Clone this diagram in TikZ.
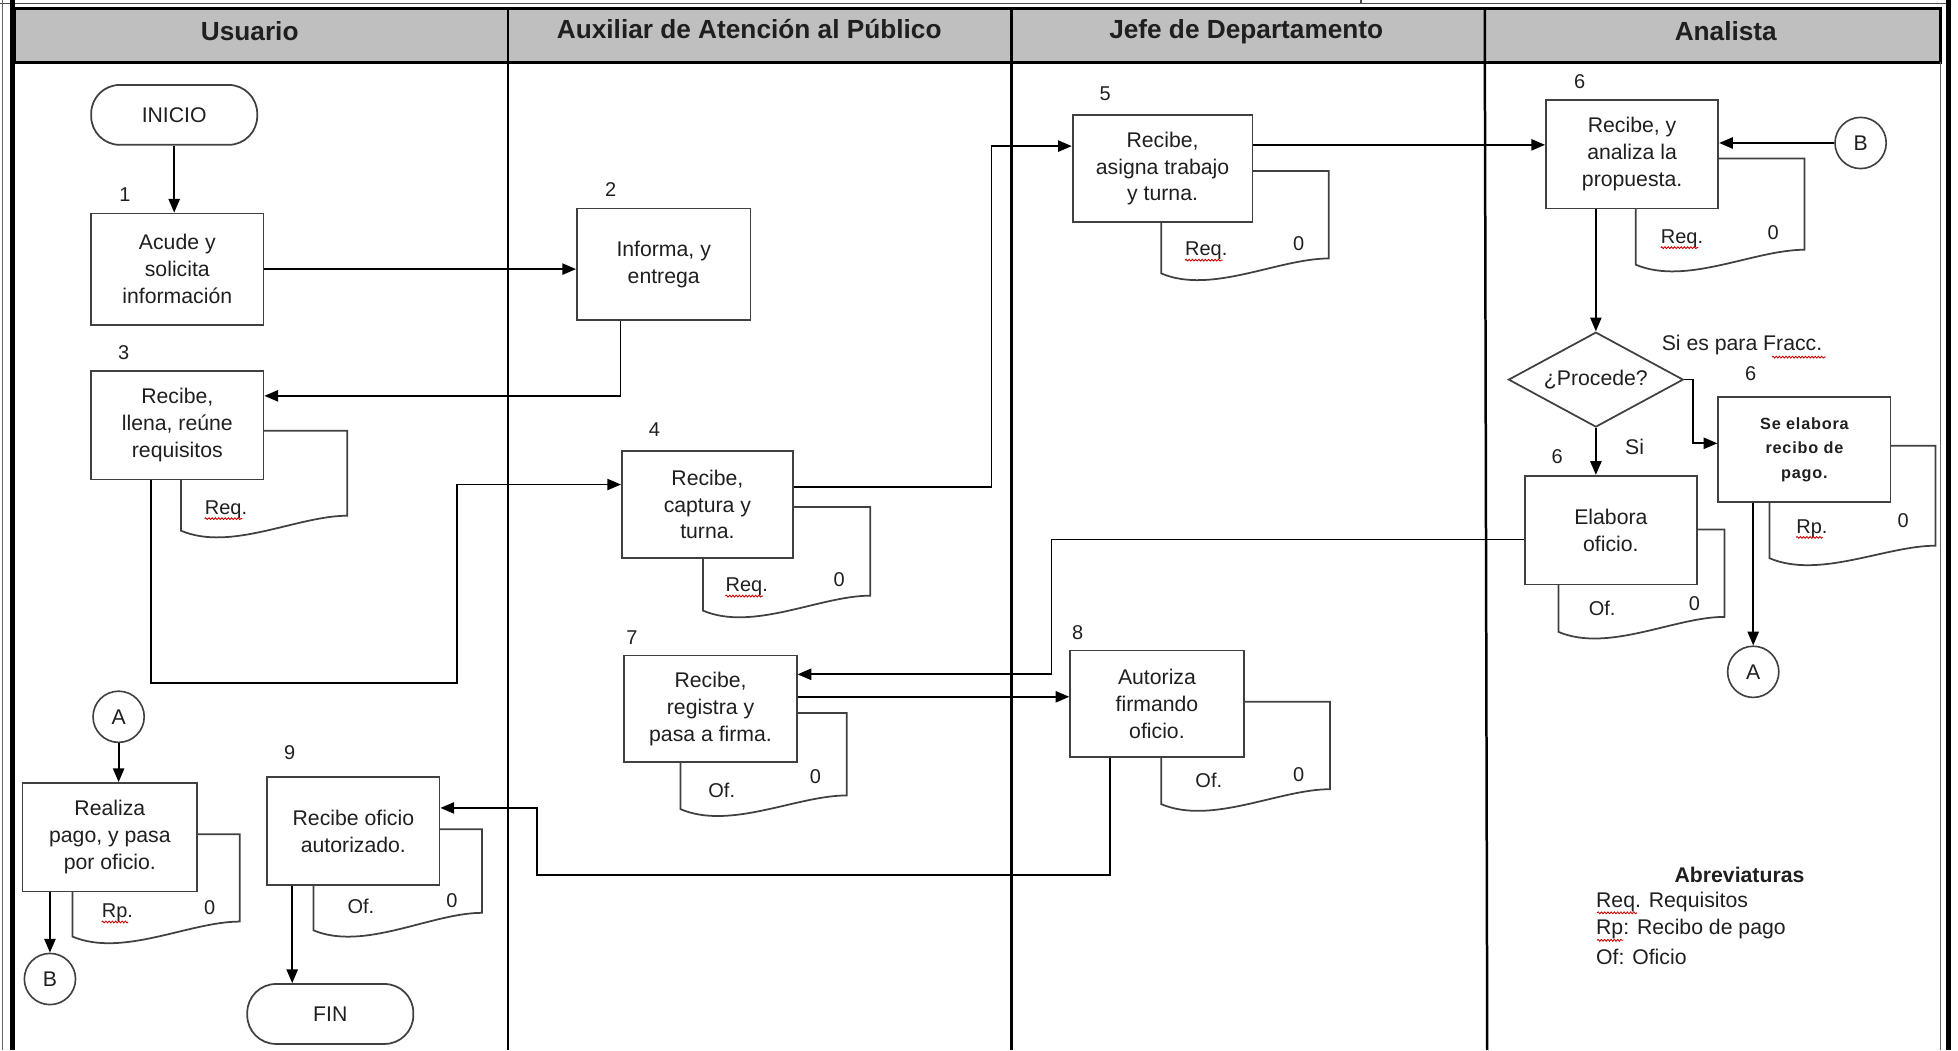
\documentclass[tikz,border=0pt]{standalone}
\usepackage{fontspec}
\setmainfont{Liberation Sans}
\usetikzlibrary{shapes.geometric,arrows.meta,calc,decorations.pathmorphing}
\newcommand{\docsh}[7]{%
  \pgfmathsetmacro{\dw}{#3-#5}%
  \draw[docl] (#1,#2) -- (#3,#2) -- (#3,#4) .. controls +(-0.3*\dw,0) and +(0.3*\dw,17) .. (#5,#6) -- (#5,#7);}
\begin{document}
\begin{tikzpicture}[x=1pt,y=-1pt,
 every node/.style={text=black!88},
 procbox/.style n args={2}{draw=black!75, line width=1.4pt, fill=white, align=center, minimum width=#1, minimum height=#2, inner sep=1pt, font=\fontsize{17}{21.5}\selectfont},
 term/.style={draw=black!75, line width=1.4pt, rounded corners=23pt, minimum width=133pt, minimum height=48pt, font=\fontsize{17}{21}\selectfont},
 conn/.style={circle, draw=black!75, line width=1.3pt, minimum size=41pt, inner sep=0pt, font=\fontsize{17}{21}\selectfont},
 num/.style={font=\fontsize{16}{19}\selectfont, inner sep=1pt},
 dtxt/.style={font=\fontsize{16}{19}\selectfont, inner sep=1pt},
 docl/.style={draw=black!75, line width=1.4pt},
 arr/.style={draw=black, line width=1.4pt, -{Triangle[length=11pt,width=9pt]}},
 lane/.style={draw=black, line width=2pt},
 spell/.style={draw=red!80!black, line width=0.7pt, decorate, decoration={snake, amplitude=0.7pt, segment length=2.6pt}},
 head/.style={font=\bfseries\fontsize{21}{25}\selectfont},
 plain/.style={font=\fontsize{17}{21}\selectfont, inner sep=1pt},
]
\useasboundingbox (0,0) rectangle (1568,841);
% frame and header
\draw[black!70, line width=1.2pt] (0,3) -- (1560,3);
\draw[black!70, line width=1.2pt] (1090,0) -- (1090,3);
\fill[black!25] (12,7) rectangle (1554,50);
\draw[lane] (12,7) rectangle (1554,50);
\draw[lane] (407,7) -- (407,841);
\draw[lane] (810,7) -- (810,841);
\draw[lane] (1189,7) -- (1191,841);
\draw[black!60, line width=1pt] (2,0) -- (2,841);
\draw[black, line width=4pt] (10,0) -- (10,841);
\draw[black!60, line width=1pt] (1554,50) -- (1554,841);
\draw[black, line width=4pt] (1560,0) -- (1560,841);
\node[head] (h1) at (200,25) {Usuario};
\node[head] (h2) at (600,23) {Auxiliar de Atención al Público};
\node[head] (h3) at (998,25) {Jefe de Departamento};
\node[head] (h4) at (1382,25) {Analista};

% documents
\docsh{211}{345}{278}{413}{145}{425}{384}
\docsh{635}{406}{697}{477}{563}{489}{447}
\docsh{1003}{137}{1064}{207}{930}{219}{178}
\docsh{1376}{127}{1445}{200}{1310}{212}{167}
\docsh{1514}{357}{1550}{437}{1417}{447}{402}
\docsh{1359}{424}{1381}{494}{1248}{506}{468}
\docsh{638}{571}{678}{637}{545}{648}{610}
\docsh{996}{562}{1065}{632}{930}{644}{606}
\docsh{158}{668}{192}{738}{58}{750}{714}
\docsh{352}{664}{386}{731}{251}{745}{709}

% nodes
\node[term] (ini) at (139.5,92) {INICIO};
\node[procbox={138pt}{89pt}] (b1) at (142,215.5) {Acude y\\solicita\\información};
\node[procbox={139pt}{89pt}] (b2) at (531.5,211.5) {Informa, y\\entrega};
\node[procbox={138pt}{87pt}] (b3) at (142,340.5) {Recibe,\\llena, reúne\\requisitos};
\node[procbox={137pt}{86pt}] (b4) at (566.5,404) {Recibe,\\captura y\\turna.};
\node[procbox={144pt}{86pt}] (b5) at (931,135) {Recibe,\\asigna trabajo\\y turna.};
\node[procbox={138pt}{87pt}] (b6) at (1307,123.5) {Recibe, y\\analiza la\\propuesta.};
\node[draw=black!75, line width=1.4pt, diamond, aspect=1.84, minimum width=140pt, minimum height=76pt, inner sep=0pt, font=\fontsize{17}{21}\selectfont] (dec) at (1278,304) {¿Procede?};
\node[procbox={138pt}{84pt}, font=\bfseries\fontsize{13}{19.5}\selectfont\addfontfeature{LetterSpace=5}] (b6se) at (1445,360) {Se elabora\\recibo de\\pago.};
\node[procbox={138pt}{87pt}] (b6el) at (1290,424.5) {Elabora\\oficio.};
\node[procbox={138pt}{85pt}] (b7) at (569,567.5) {Recibe,\\registra y\\pasa a firma.};
\node[procbox={139pt}{85pt}] (b8) at (926.5,563.5) {Autoriza\\firmando\\oficio.};
\node[procbox={140pt}{87pt}] (br) at (88,670.5) {Realiza\\pago, y pasa\\por oficio.};
\node[procbox={138pt}{87pt}] (b9) at (283,665.5) {Recibe oficio\\autorizado.};
\node[term] (fin) at (264.5,812) {FIN};
\node[conn] (cB1) at (1490,114.5) {B};
\node[conn] (cA1) at (1404,538) {A};
\node[conn] (cA2) at (95,574) {A};
\node[conn] (cB2) at (40,784) {B};

% step numbers
\node[num] (n1) at (100,156) {1};
\node[num] (n2) at (489,152) {2};
\node[num] (n3) at (99,282) {3};
\node[num] (n4) at (524,344) {4};
\node[num] (n5) at (885,75) {5};
\node[num] (n6a) at (1265,65) {6};
\node[num] (n6b) at (1402,299) {6};
\node[num] (n6c) at (1247,366) {6};
\node[num] (n7) at (506,511) {7};
\node[num] (n8) at (863,507) {8};
\node[num] (n9) at (232,603) {9};

% document texts
\node[dtxt] (d3r) at (181,408) {Req.};
\node[dtxt] (d4r) at (598,470) {Req.};
\node[dtxt] (d4z) at (672,464) {0};
\node[dtxt] (d5r) at (966,201) {Req.};
\node[dtxt] (d5z) at (1040,195) {0};
\node[dtxt] (d6r) at (1347,191) {Req.};
\node[dtxt] (d6z) at (1420,186) {0};
\node[dtxt] (dser) at (1451,423) {Rp.};
\node[dtxt] (dsez) at (1524,417) {0};
\node[dtxt] (delr) at (1283,487) {Of.};
\node[dtxt] (delz) at (1357,483) {0};
\node[dtxt] (d7r) at (578,633) {Of.};
\node[dtxt] (d7z) at (653,622) {0};
\node[dtxt] (d8r) at (968,625) {Of.};
\node[dtxt] (d8z) at (1040,620) {0};
\node[dtxt] (drr) at (94,731) {Rp.};
\node[dtxt] (drz) at (168,727) {0};
\node[dtxt] (d9r) at (289,726) {Of.};
\node[dtxt] (d9z) at (362,721) {0};
\foreach \n in {d3r,d4r,d5r,d6r}{\draw[spell] ($(\n.base west)+(1,3.5)$) -- ($(\n.base east)+(-5,3.5)$);}
\foreach \n in {dser,drr}{\draw[spell] ($(\n.base west)+(1,3.5)$) -- ($(\n.base east)+(-5,3.5)$);}

% labels
\node[plain] (lf) at (1395,276) {Si es para Fracc.};
\draw[spell] (1419,286) -- (1462,286);
\node[plain] (lsi) at (1309,358) {Si};

% abbreviations
\node[font=\bfseries\fontsize{17}{21}\selectfont, inner sep=1pt] (ab) at (1393,701) {Abreviaturas};
\node[plain, anchor=west] (ab1) at (1277,722) {Req. Requisitos};
\node[plain, anchor=west] (ab2) at (1277,744) {Rp: Recibo de pago};
\node[plain, anchor=west] (ab3) at (1277,766) {Of: Oficio};
\draw[spell] (1279,731) -- (1311,731);
\draw[spell] (1279,753) -- (1300,753);

% connectors
\draw[arr] (ini.south) -- (ini.south |- b1.north);
\draw[arr] (b1.east) -- (b1.east -| b2.west);
\draw[arr] ($(b2.south)+(-34.5,0)$) |- ($(b3.east)+(0,-23.5)$);
\draw[arr] ($(b3.south)+(-21,0)$) |- (366,547) |- ($(b4.west)+(0,-16)$);
\draw[arr] ($(b4.east)+(0,-14)$) -| (794,117) -- ($(b5.west)+(0,-18)$);
\coordinate (s5) at ($(b5.east)+(0,-19)$);
\draw[arr] (s5) -- (s5 -| b6.west);
\draw[arr] (cB1.west) -- (cB1.west -| b6.east);
\draw[arr] (dec.north |- b6.south) -- (dec.north);
\draw[arr] (dec.east) -- ++(7,0) |- ($(b6se.west)+(0,-5)$);
\draw[arr] (dec.south) -- (dec.south |- b6el.north);
\coordinate (s6) at (cA1.north |- b6se.south);
\draw[arr] (s6) -- (cA1.north);
\draw[arr] ($(b6el.west)+(0,7.5)$) -| (842,540) -- ($(b7.east)+(0,-27.5)$);
\coordinate (s7) at ($(b7.east)+(0,-9.5)$);
\draw[arr] (s7) -- (s7 -| b8.west);
\draw[arr] ($(b8.south)+(-37.5,0)$) |- (430,701) |- ($(b9.east)+(0,-18.5)$);
\draw[arr] (cA2.south) -- (cA2.south |- br.north);
\coordinate (s8) at (cB2.north |- br.south);
\draw[arr] (s8) -- (cB2.north);
\coordinate (s9) at ($(b9.south)+(-49,0)$);
\draw[arr] (s9) -- (s9 |- fin.north);
\end{tikzpicture}
\end{document}
